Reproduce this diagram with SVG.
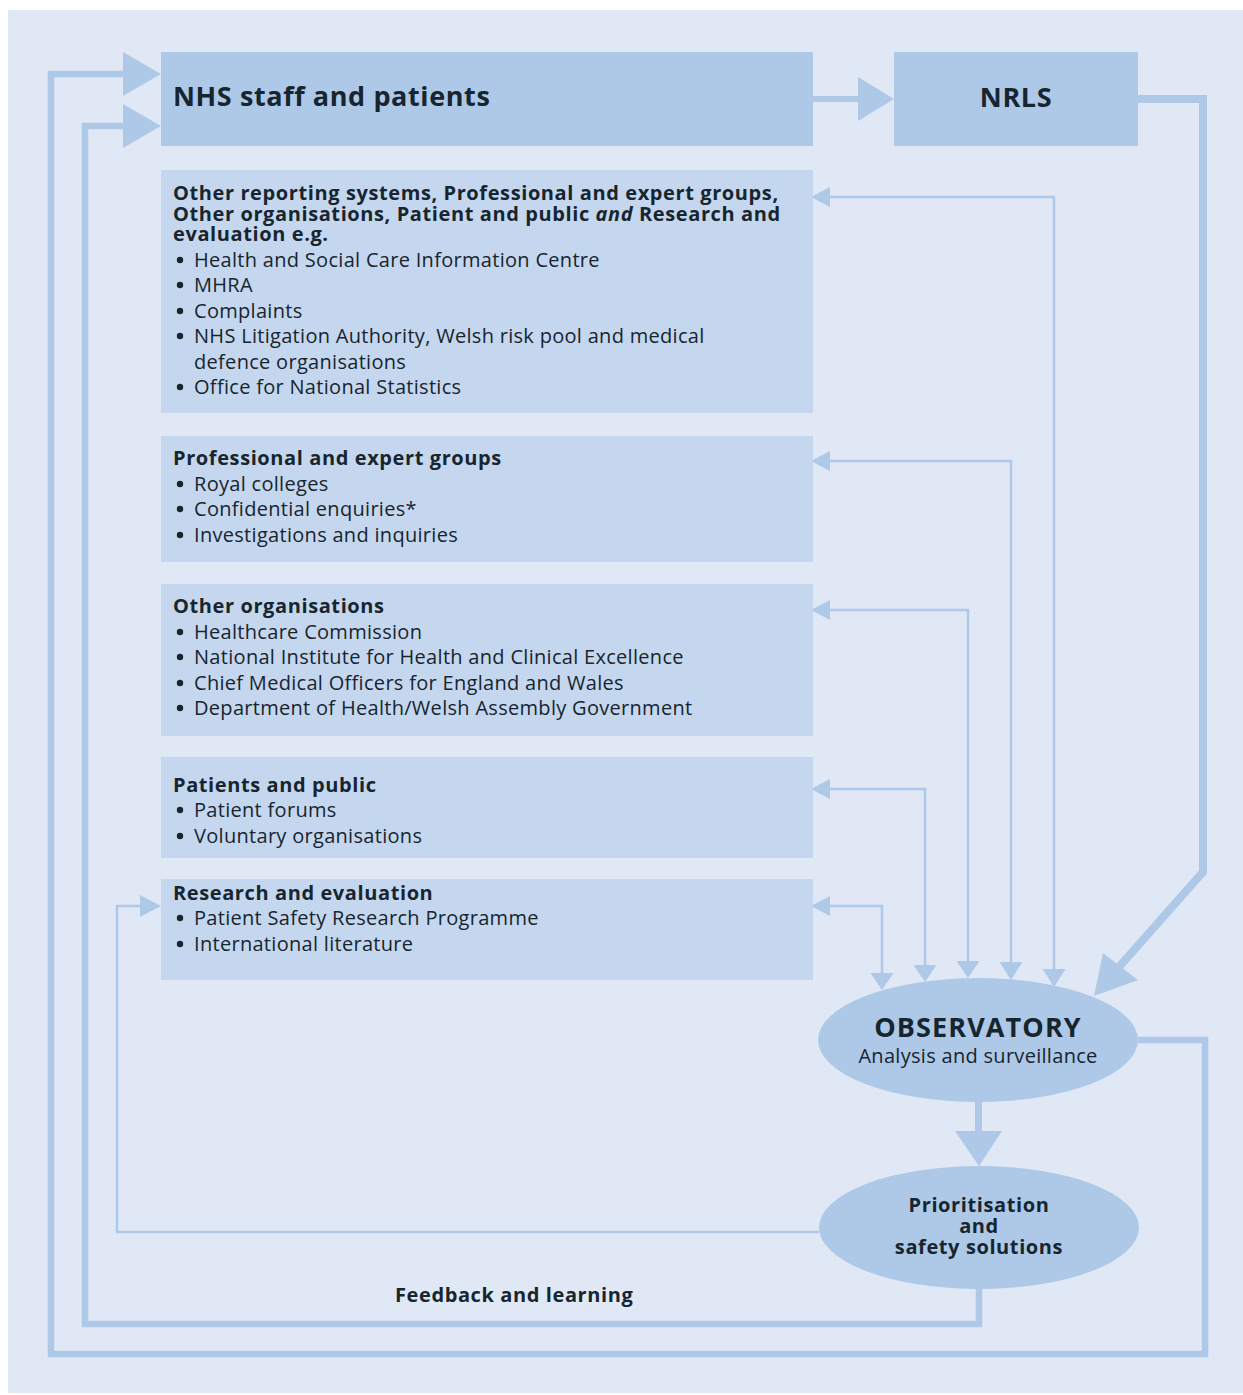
<svg xmlns="http://www.w3.org/2000/svg" width="1243" height="1395" viewBox="0 0 1243 1395">
<defs>
<style>
.panel{fill:#E1E8F5}
.dark{fill:#AEC8E8}
.light{fill:#C5D7EE}
.thick{fill:none;stroke:#AEC8E8;stroke-width:6.5;stroke-linejoin:miter}
.thin{fill:none;stroke:#AEC8E8;stroke-width:2.5}
.head{fill:#AEC8E8}
.dot{fill:#17252F}
text{font-family:"Open Sans","Noto Sans",sans-serif;fill:#17252F}
.t1{font-size:27px;font-weight:bold;letter-spacing:0.6px}
.h{font-size:20px;font-weight:bold;letter-spacing:0.6px}
.r{font-size:20px;letter-spacing:0.3px}
</style>
</defs>
<rect class="panel" x="8" y="10" width="1235" height="1383"/>

<g id="connectors">
  <line class="thick" x1="813" y1="99" x2="860" y2="99" style="stroke-width:6"/>
  <polygon class="head" points="858,77 894,99 858,121"/>
  <polyline class="thick" points="1138,99 1203,99 1203,872 1119,967" style="stroke-width:8"/>
  <polygon class="head" points="1094,996 1103,953 1138,980"/>
  <polyline class="thick" points="1138,1040 1205,1040 1205,1354 51,1354 51,74 125,74"/>
  <polygon class="head" points="123,52 161,74 123,96"/>
  <polyline class="thick" points="979,1289 979,1324 85,1324 85,126 125,126"/>
  <polygon class="head" points="123,104 161,126 123,148"/>
  <line class="thick" x1="978.5" y1="1102" x2="978.5" y2="1133" style="stroke-width:7"/>
  <polygon class="head" points="955,1131 1002,1131 979,1166"/>
  <polyline class="thin" points="819,1232 117,1232 117,906 142,906"/>
  <polygon class="head" points="161,906 140,895 140,917"/>
  <polyline class="thin" points="828,197 1054,197 1054,971"/>
  <polygon class="head" points="811,197 830,187 830,207"/>
  <polygon class="head" points="1054,987 1042.5,969 1065.5,969"/>
  <polyline class="thin" points="828,461 1011,461 1011,964"/>
  <polygon class="head" points="811,461 830,451 830,471"/>
  <polygon class="head" points="1011,980 999.5,962 1022.5,962"/>
  <polyline class="thin" points="828,610 968,610 968,963"/>
  <polygon class="head" points="811,610 830,600 830,620"/>
  <polygon class="head" points="968,978 956.5,961 979.5,961"/>
  <polyline class="thin" points="828,789 925,789 925,968"/>
  <polygon class="head" points="811,789 830,779 830,799"/>
  <polygon class="head" points="925,982 913.5,965 936.5,965"/>
  <polyline class="thin" points="828,906 882,906 882,975"/>
  <polygon class="head" points="811,906 830,896 830,916"/>
  <polygon class="head" points="882,990 870.5,973 893.5,973"/>
</g>

<g id="nhs">
  <rect class="dark" x="161" y="52" width="652" height="94"/>
  <text class="t1" x="173" y="106">NHS staff and patients</text>
</g>
<g id="nrls">
  <rect class="dark" x="894" y="52" width="244" height="94"/>
  <text class="t1" x="1016" y="107" text-anchor="middle">NRLS</text>
</g>

<g id="other-reporting">
  <rect class="light" x="161" y="170" width="652" height="243"/>
  <text class="h" x="173" y="200">Other reporting systems, Professional and expert groups,</text>
  <text class="h" x="173" y="221">Other organisations, Patient and public <tspan font-style="italic">and</tspan> Research and</text>
  <text class="h" x="173" y="241">evaluation e.g.</text>
  <circle class="dot" cx="180" cy="260" r="3.2"/><text class="r" x="194" y="267">Health and Social Care Information Centre</text>
  <circle class="dot" cx="180" cy="285" r="3.2"/><text class="r" x="194" y="292">MHRA</text>
  <circle class="dot" cx="180" cy="311" r="3.2"/><text class="r" x="194" y="318">Complaints</text>
  <circle class="dot" cx="180" cy="336" r="3.2"/><text class="r" x="194" y="343">NHS Litigation Authority, Welsh risk pool and medical</text>
  <text class="r" x="194" y="369">defence organisations</text>
  <circle class="dot" cx="180" cy="387" r="3.2"/><text class="r" x="194" y="394">Office for National Statistics</text>
</g>

<g id="professional">
  <rect class="light" x="161" y="436" width="652" height="126"/>
  <text class="h" x="173" y="465">Professional and expert groups</text>
  <circle class="dot" cx="180" cy="484" r="3.2"/><text class="r" x="194" y="491">Royal colleges</text>
  <circle class="dot" cx="180" cy="509" r="3.2"/><text class="r" x="194" y="516">Confidential enquiries*</text>
  <circle class="dot" cx="180" cy="535" r="3.2"/><text class="r" x="194" y="542">Investigations and inquiries</text>
</g>

<g id="other-organisations">
  <rect class="light" x="161" y="584" width="652" height="152"/>
  <text class="h" x="173" y="613">Other organisations</text>
  <circle class="dot" cx="180" cy="632" r="3.2"/><text class="r" x="194" y="639">Healthcare Commission</text>
  <circle class="dot" cx="180" cy="657" r="3.2"/><text class="r" x="194" y="664">National Institute for Health and Clinical Excellence</text>
  <circle class="dot" cx="180" cy="683" r="3.2"/><text class="r" x="194" y="690">Chief Medical Officers for England and Wales</text>
  <circle class="dot" cx="180" cy="708" r="3.2"/><text class="r" x="194" y="715">Department of Health/Welsh Assembly Government</text>
</g>

<g id="patients">
  <rect class="light" x="161" y="757" width="652" height="101"/>
  <text class="h" x="173" y="792">Patients and public</text>
  <circle class="dot" cx="180" cy="810" r="3.2"/><text class="r" x="194" y="817">Patient forums</text>
  <circle class="dot" cx="180" cy="836" r="3.2"/><text class="r" x="194" y="843">Voluntary organisations</text>
</g>

<g id="research">
  <rect class="light" x="161" y="879" width="652" height="101"/>
  <text class="h" x="173" y="900">Research and evaluation</text>
  <circle class="dot" cx="180" cy="918" r="3.2"/><text class="r" x="194" y="925">Patient Safety Research Programme</text>
  <circle class="dot" cx="180" cy="944" r="3.2"/><text class="r" x="194" y="951">International literature</text>
</g>

<g id="observatory">
  <ellipse class="dark" cx="978" cy="1040" rx="160" ry="62"/>
  <text class="t1" x="978" y="1037" text-anchor="middle" style="letter-spacing:1.1px">OBSERVATORY</text>
  <text class="r" x="978" y="1063" text-anchor="middle">Analysis and surveillance</text>
</g>

<g id="prioritisation">
  <ellipse class="dark" cx="979" cy="1227.5" rx="160" ry="61.5"/>
  <text class="h" x="979" y="1212" text-anchor="middle">Prioritisation</text>
  <text class="h" x="979" y="1233" text-anchor="middle">and</text>
  <text class="h" x="979" y="1254" text-anchor="middle">safety solutions</text>
</g>

<g id="feedback-label">
  <text class="h" x="395" y="1302">Feedback and learning</text>
</g>
</svg>
